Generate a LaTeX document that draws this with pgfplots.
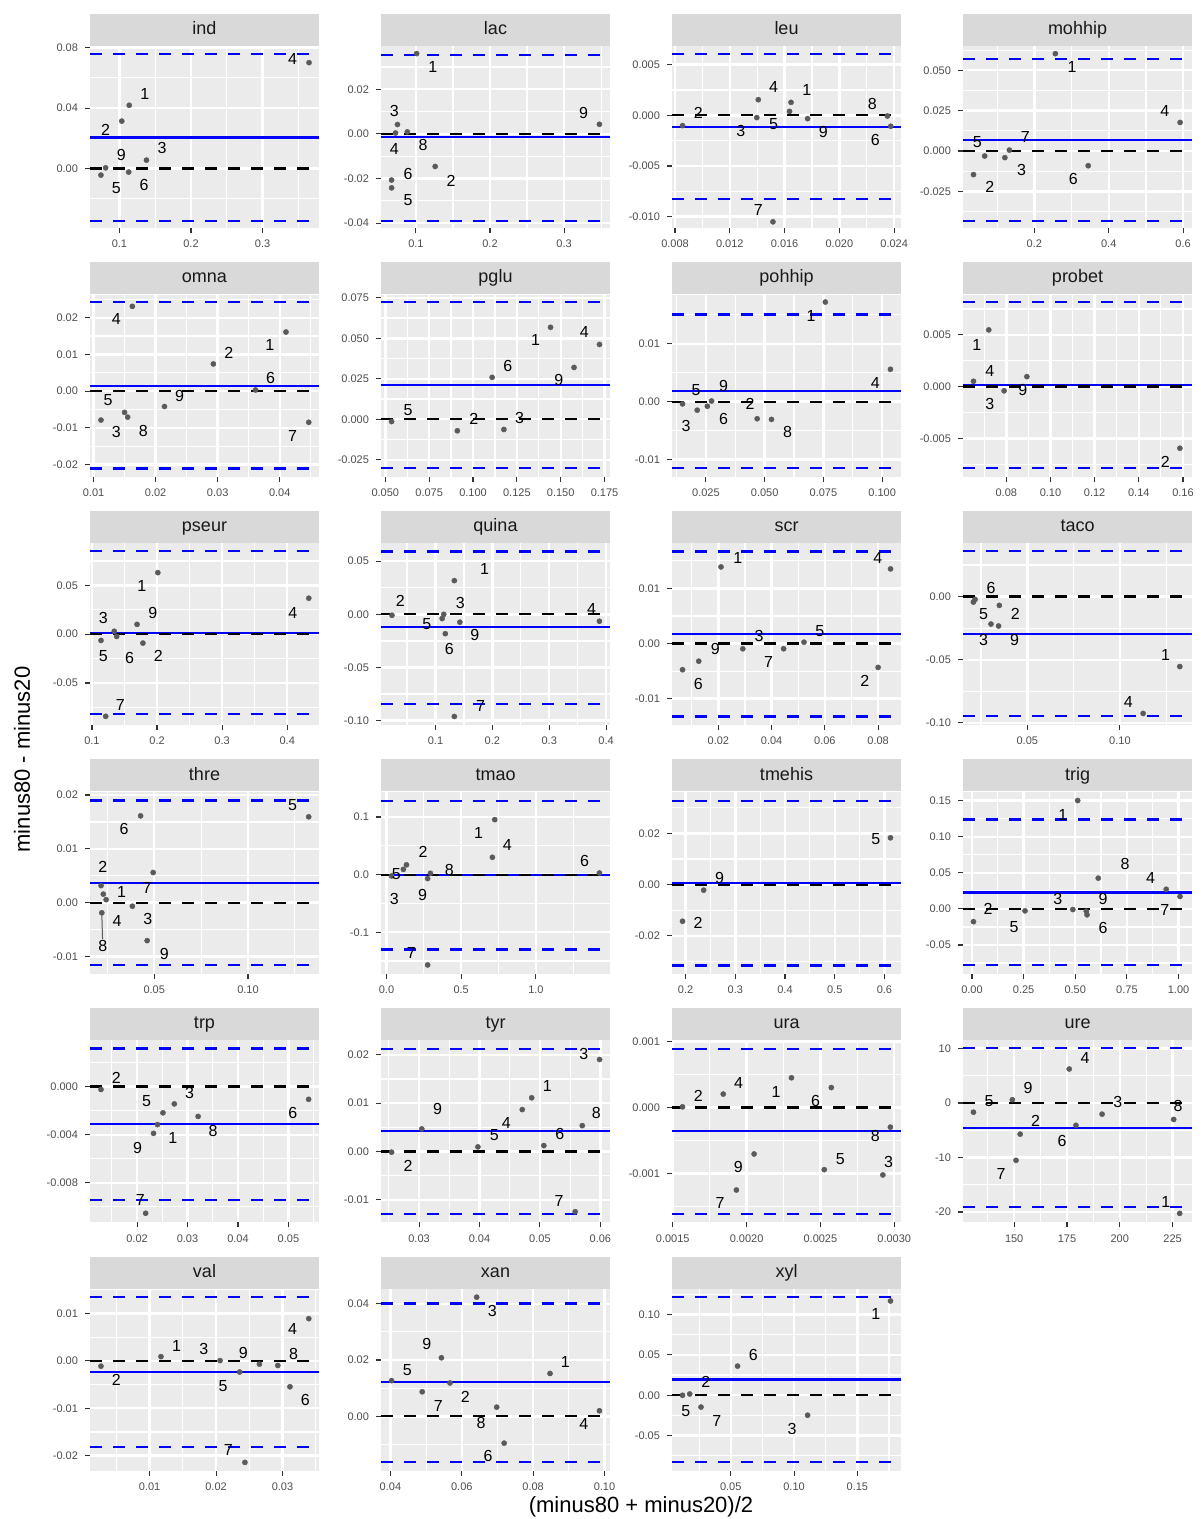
\documentclass[border=0pt]{standalone}
\usepackage{fontspec}
\setmainfont{Liberation Sans}
\usepackage{pgfplots}
\pgfplotsset{compat=1.18}
\definecolor{panelbg}{HTML}{EBEBEB}
\definecolor{stripbg}{HTML}{D9D9D9}
\definecolor{ticklab}{HTML}{4D4D4D}
\definecolor{tickcol}{HTML}{333333}
\definecolor{ptgray}{HTML}{5A5A5A}
\pgfplotsset{
  ggpanel/.style={
    width=114.5pt, height=91pt, scale only axis, anchor=north west,
    axis background/.style={fill=panelbg},
    axis line style={draw=none},
    grid=both,
    major grid style={white, line width=1.2pt},
    minor grid style={white, line width=0.6pt},
    tick align=outside, tick pos=left,
    major tick length=2.5pt, minor tick length=0pt,
    tick style={color=tickcol, line width=0.55pt},
    tick label style={font=\fontsize{5.5}{6}\selectfont, text=ticklab},
    scaled ticks=false,
    every axis title/.style={at={(0.5,1)}, anchor=south, fill=stripbg,
      minimum width=114.5pt, minimum height=16pt, inner sep=0pt,
      text height=6.3pt, text depth=1.7pt,
      font=\fontsize{9}{10}\selectfont, text=black!90},
  },
  pts/.style={only marks, mark=*, mark size=1.3pt,
    mark options={draw=ptgray, fill=ptgray, line width=0.2pt}},
  lbl/.style={draw=none, mark=none, nodes near coords, point meta=explicit symbolic,
    every node near coord/.style={anchor=center, inner sep=0pt,
      font=\fontsize{8}{9}\selectfont, text=black}},
}
\newcommand{\bala}[3]{%
  \draw[blue, line width=1.1pt] ({rel axis cs:0,0}|-{axis cs:0,#1}) -- ({rel axis cs:1,0}|-{axis cs:0,#1});
  \draw[blue, line width=1.1pt, dash pattern=on 6pt off 5.5pt] ({rel axis cs:0,0}|-{axis cs:0,#2}) -- ({rel axis cs:1,0}|-{axis cs:0,#2});
  \draw[blue, line width=1.1pt, dash pattern=on 6pt off 5.5pt] ({rel axis cs:0,0}|-{axis cs:0,#3}) -- ({rel axis cs:1,0}|-{axis cs:0,#3});
  \draw[black, line width=1.1pt, dash pattern=on 6pt off 5.5pt] ({rel axis cs:0,0}|-{axis cs:0,0}) -- ({rel axis cs:1,0}|-{axis cs:0,0});
}
\begin{document}
\begin{tikzpicture}
\useasboundingbox (0,0) rectangle (600pt,-759.5pt);

% ---------- row 1 ----------
\begin{axis}[ggpanel, at={(45pt,-23pt)}, title={ind},
  xmin=0.0589, xmax=0.3789, ymin=-0.0393, ymax=0.0811,
  xtick={0.1,0.2,0.3}, xticklabels={0.1,0.2,0.3}, minor xtick={0.15,0.25,0.35},
  ytick={-0.04,0,0.04,0.08}, yticklabels={-0.04,0.00,0.04,0.08}, minor ytick={-0.02,0.02,0.06}]
\bala{0.0206}{0.0760}{-0.0349}
\addplot[pts] table[row sep=\\]{x y\\ 0.365 0.0701\\ 0.1137 0.0419\\ 0.1033 0.0314\\ 0.1378 0.0056\\ 0.0808 0.0005\\ 0.0742 -0.0043\\ 0.113 -0.0023\\};
\addplot[lbl] table[row sep=\\, meta=l]{x y l\\ 0.342 0.0722 4\\ 0.1356 0.0496 1\\ 0.0808 0.0256 2\\ 0.1597 0.0137 3\\ 0.1027 0.0089 9\\ 0.0956 -0.0131 5\\ 0.1345 -0.0109 6\\};
\end{axis}

\begin{axis}[ggpanel, at={(190.5pt,-23pt)}, title={lac},
  xmin=0.0529, xmax=0.3619, ymin=-0.0422, ymax=0.0394,
  xtick={0.1,0.2,0.3}, xticklabels={0.1,0.2,0.3}, minor xtick={0.15,0.25,0.35},
  ytick={-0.04,-0.02,0,0.02}, yticklabels={-0.04,-0.02,0.00,0.02}, minor ytick={-0.03,-0.01,0.01,0.03}]
\bala{-0.0015}{0.0355}{-0.0391}
\addplot[pts] table[row sep=\\]{x y\\ 0.101 0.036\\ 0.0751 0.0042\\ 0.0725 0.0004\\ 0.0884 0.0009\\ 0.3476 0.0043\\ 0.126 -0.0146\\ 0.0672 -0.0207\\ 0.0672 -0.0242\\};
\addplot[lbl] table[row sep=\\, meta=l]{x y l\\ 0.1227 0.0301 1\\ 0.0709 0.0103 3\\ 0.3264 0.0094 9\\ 0.0709 -0.0067 4\\ 0.1095 -0.0049 8\\ 0.0894 -0.0182 6\\ 0.1476 -0.0209 2\\ 0.0894 -0.0298 5\\};
\end{axis}

\begin{axis}[ggpanel, at={(336pt,-23pt)}, title={leu},
  xmin=0.00778, xmax=0.0245, ymin=-0.01112, ymax=0.00684,
  xtick={0.008,0.012,0.016,0.020,0.024}, xticklabels={0.008,0.012,0.016,0.020,0.024}, minor xtick={0.010,0.014,0.018,0.022},
  ytick={-0.010,-0.005,0,0.005}, yticklabels={-0.010,-0.005,0.000,0.005}, minor ytick={-0.0075,-0.0025,0.0025}]
\bala{-0.00112}{0.00604}{-0.00827}
\addplot[pts] table[row sep=\\]{x y\\ 0.00855 -0.00102\\ 0.01408 0.00154\\ 0.01397 -0.00023\\ 0.01647 0.00128\\ 0.01636 0.00039\\ 0.01768 -0.00033\\ 0.02351 -0.00007\\ 0.02375 -0.00108\\ 0.01515 -0.01051\\};
\addplot[lbl] table[row sep=\\, meta=l]{x y l\\ 0.0097 0.0002 2\\ 0.0152 0.00276 4\\ 0.01762 0.00253 1\\ 0.01281 -0.00158 3\\ 0.0152 -0.00089 5\\ 0.01883 -0.00167 9\\ 0.0224 0.00112 8\\ 0.02262 -0.00243 6\\ 0.01408 -0.00932 7\\};
\end{axis}

\begin{axis}[ggpanel, at={(481.5pt,-23pt)}, title={mohhip},
  xmin=0.008, xmax=0.624, ymin=-0.04767, ymax=0.06505,
  xtick={0.2,0.4,0.6}, xticklabels={0.2,0.4,0.6}, minor xtick={0.1,0.3,0.5},
  ytick={-0.025,0,0.025,0.05}, yticklabels={-0.025,0.000,0.025,0.050}, minor ytick={-0.0375,-0.0125,0.0125,0.0375,0.0625}]
\bala{0.0068}{0.0569}{-0.0431}
\addplot[pts] table[row sep=\\]{x y\\ 0.2563 0.0603\\ 0.592 0.0177\\ 0.0362 -0.0146\\ 0.0663 -0.0031\\ 0.1206 -0.0041\\ 0.1327 0.0006\\ 0.3447 -0.0091\\};
\addplot[lbl] table[row sep=\\, meta=l]{x y l\\ 0.3015 0.0521 1\\ 0.5508 0.0247 4\\ 0.0462 0.0058 5\\ 0.1759 0.0089 7\\ 0.0804 -0.0225 2\\ 0.1658 -0.0117 3\\ 0.3045 -0.0173 6\\};
\end{axis}

% ---------- row 2 ----------
\begin{axis}[ggpanel, at={(45pt,-147.3pt)}, title={omna},
  xmin=0.00943, xmax=0.04632, ymin=-0.0233, ymax=0.0263,
  xtick={0.01,0.02,0.03,0.04}, xticklabels={0.01,0.02,0.03,0.04}, minor xtick={0.015,0.025,0.035,0.045},
  ytick={-0.02,-0.01,0,0.01,0.02}, yticklabels={-0.02,-0.01,0.00,0.01,0.02}, minor ytick={-0.015,-0.005,0.005,0.015,0.025}]
\bala{0.0015}{0.0242}{-0.0211}
\addplot[pts] table[row sep=\\]{x y\\ 0.01625 0.0231\\ 0.041 0.0161\\ 0.0293 0.0074\\ 0.0361 0.0003\\ 0.02143 -0.0042\\ 0.0112 -0.0079\\ 0.015 -0.0058\\ 0.0155 -0.0071\\ 0.04467 -0.0085\\};
\addplot[lbl] table[row sep=\\, meta=l]{x y l\\ 0.01366 0.0197 4\\ 0.0318 0.0103 2\\ 0.0384 0.0126 1\\ 0.0385 0.0035 6\\ 0.02385 -0.0012 9\\ 0.01234 -0.0025 5\\ 0.01366 -0.0112 3\\ 0.01802 -0.0109 8\\ 0.04208 -0.0122 7\\};
\end{axis}

\begin{axis}[ggpanel, at={(190.5pt,-147.3pt)}, title={pglu},
  xmin=0.04754, xmax=0.1781, ymin=-0.0354, ymax=0.077,
  xtick={0.05,0.075,0.1,0.125,0.15,0.175}, xticklabels={0.050,0.075,0.100,0.125,0.150,0.175}, minor xtick={0.0625,0.0875,0.1125,0.1375,0.1625},
  ytick={-0.025,0,0.025,0.05,0.075}, yticklabels={-0.025,0.000,0.025,0.050,0.075}, minor ytick={-0.0125,0.0125,0.0375,0.0625}]
\bala{0.021}{0.0723}{-0.0303}
\addplot[pts] table[row sep=\\]{x y\\ 0.05357 -0.0014\\ 0.09107 -0.0071\\ 0.1176 -0.0063\\ 0.1109 0.0259\\ 0.1442 0.0568\\ 0.1576 0.032\\ 0.1721 0.0462\\};
\addplot[lbl] table[row sep=\\, meta=l]{x y l\\ 0.0630 0.0059 5\\ 0.1004 0.0002 2\\ 0.1266 0.0006 3\\ 0.1199 0.0332 6\\ 0.1357 0.0491 1\\ 0.1489 0.0244 9\\ 0.1634 0.0536 4\\};
\end{axis}

\begin{axis}[ggpanel, at={(336pt,-147.3pt)}, title={pohhip},
  xmin=0.01058, xmax=0.108, ymin=-0.01296, ymax=0.01849,
  xtick={0.025,0.05,0.075,0.1}, xticklabels={0.025,0.050,0.075,0.100}, minor xtick={0.0125,0.0375,0.0625,0.0875},
  ytick={-0.01,0,0.01}, yticklabels={-0.01,0.00,0.01}, minor ytick={-0.005,0.005,0.015}]
\bala{0.00182}{0.01504}{-0.01151}
\addplot[pts] table[row sep=\\]{x y\\ 0.0758 0.0172\\ 0.1035 0.00558\\ 0.01507 -0.0004\\ 0.0213 -0.00148\\ 0.0256 -0.0008\\ 0.0274 0.0001\\ 0.0468 -0.00296\\ 0.0529 -0.00308\\};
\addplot[lbl] table[row sep=\\, meta=l]{x y l\\ 0.02083 0.002 5\\ 0.03253 0.00262 9\\ 0.01651 -0.00416 3\\ 0.03253 -0.00308 6\\ 0.04375 -0.00046 2\\ 0.05978 -0.0053 8\\ 0.09712 0.00319 4\\ 0.06971 0.01481 1\\};
\end{axis}

\begin{axis}[ggpanel, at={(481.5pt,-147.3pt)}, title={probet},
  xmin=0.06038, xmax=0.1641, ymin=-0.0087, ymax=0.00889,
  xtick={0.08,0.1,0.12,0.14,0.16}, xticklabels={0.08,0.10,0.12,0.14,0.16}, minor xtick={0.07,0.09,0.11,0.13,0.15},
  ytick={-0.005,0,0.005}, yticklabels={-0.005,0.000,0.005}, minor ytick={-0.0075,-0.0025,0.0025,0.0075}]
\bala{0.00013}{0.00815}{-0.0079}
\addplot[pts] table[row sep=\\]{x y\\ 0.06512 0.00051\\ 0.07205 0.00548\\ 0.07899 -0.00041\\ 0.0893 0.00096\\ 0.1586 -0.00596\\};
\addplot[lbl] table[row sep=\\, meta=l]{x y l\\ 0.06664 0.00398 1\\ 0.07256 0.00147 4\\ 0.07256 -0.00166 3\\ 0.08744 -0.00032 9\\ 0.1520 -0.00726 2\\};
\end{axis}

% ---------- row 3 ----------
\begin{axis}[ggpanel, at={(45pt,-271.6pt)}, title={pseur},
  xmin=0.097, xmax=0.4488, ymin=-0.0933, ymax=0.0933,
  xtick={0.1,0.2,0.3,0.4}, xticklabels={0.1,0.2,0.3,0.4}, minor xtick={0.15,0.25,0.35},
  ytick={-0.05,0,0.05}, yticklabels={-0.05,0.00,0.05}, minor ytick={-0.075,-0.025,0.025,0.075}]
\bala{0.001}{0.0849}{-0.0819}
\addplot[pts] table[row sep=\\]{x y\\ 0.1139 -0.0064\\ 0.1343 0.003\\ 0.138 -0.0023\\ 0.1693 0.0101\\ 0.1783 -0.0091\\ 0.2012 0.0631\\ 0.4331 0.0369\\ 0.1211 -0.0842\\};
\addplot[lbl] table[row sep=\\, meta=l]{x y l\\ 0.1765 0.0497 1\\ 0.1175 0.0164 3\\ 0.1934 0.0221 9\\ 0.4084 0.0221 4\\ 0.1175 -0.0221 5\\ 0.1578 -0.0248 6\\ 0.2018 -0.0221 2\\ 0.1434 -0.0728 7\\};
\end{axis}

\begin{axis}[ggpanel, at={(190.5pt,-271.6pt)}, title={quina},
  xmin=0.0041, xmax=0.4069, ymin=-0.1043, ymax=0.0669,
  xtick={0.1,0.2,0.3,0.4}, xticklabels={0.1,0.2,0.3,0.4}, minor xtick={0.05,0.15,0.25,0.35},
  ytick={-0.1,-0.05,0,0.05}, yticklabels={-0.10,-0.05,0.00,0.05}, minor ytick={-0.075,-0.025,0.025}]
\bala{-0.0123}{0.0591}{-0.0847}
\addplot[pts] table[row sep=\\]{x y\\ 0.0234 -0.0009\\ 0.1331 0.0317\\ 0.1145 0.0\\ 0.1117 -0.004\\ 0.1428 -0.0074\\ 0.1172 -0.0182\\ 0.3883 -0.0065\\ 0.1331 -0.0961\\};
\addplot[lbl] table[row sep=\\, meta=l]{x y l\\ 0.038 0.0129 2\\ 0.1862 0.0431 1\\ 0.1434 0.0105 3\\ 0.0848 -0.0092 5\\ 0.1690 -0.0194 9\\ 0.1241 -0.033 6\\ 0.3745 0.0046 4\\ 0.1793 -0.0862 7\\};
\end{axis}

\begin{axis}[ggpanel, at={(336pt,-271.6pt)}, title={scr},
  xmin=0.0026, xmax=0.0886, ymin=-0.01481, ymax=0.01819,
  xtick={0.02,0.04,0.06,0.08}, xticklabels={0.02,0.04,0.06,0.08}, minor xtick={0.01,0.03,0.05,0.07},
  ytick={-0.01,0,0.01}, yticklabels={-0.01,0.00,0.01}, minor ytick={-0.005,0.005,0.015}]
\bala{0.00172}{0.01668}{-0.01324}
\addplot[pts] table[row sep=\\]{x y\\ 0.00656 -0.00475\\ 0.01264 -0.0032\\ 0.02099 0.01389\\ 0.0292 -0.00095\\ 0.04453 -0.00095\\ 0.05217 0.00024\\ 0.08 -0.00433\\ 0.08467 0.01353\\};
\addplot[lbl] table[row sep=\\, meta=l]{x y l\\ 0.02736 0.01555 1\\ 0.0799 0.01555 4\\ 0.01887 -0.00107 9\\ 0.03533 0.00142 3\\ 0.05816 0.00231 5\\ 0.03887 -0.00332 7\\ 0.0125 -0.0073 6\\ 0.07505 -0.00671 2\\};
\end{axis}

\begin{axis}[ggpanel, at={(481.5pt,-271.6pt)}, title={taco},
  xmin=0.0153, xmax=0.1389, ymin=-0.1018, ymax=0.0422,
  xtick={0.05,0.1}, xticklabels={0.05,0.10}, minor xtick={0.025,0.075,0.125},
  ytick={-0.1,-0.05,0}, yticklabels={-0.10,-0.05,0.00}, minor ytick={-0.075,-0.025,0.025}]
\bala{-0.0295}{0.0358}{-0.0948}
\addplot[pts] table[row sep=\\]{x y\\ 0.0209 -0.0044\\ 0.0218 -0.0023\\ 0.0349 -0.007\\ 0.0304 -0.0218\\ 0.0345 -0.0233\\ 0.1323 -0.0554\\ 0.1125 -0.0925\\};
\addplot[lbl] table[row sep=\\, meta=l]{x y l\\ 0.0304 0.0067 6\\ 0.0264 -0.014 5\\ 0.0435 -0.014 2\\ 0.0264 -0.0347 3\\ 0.0431 -0.0347 9\\ 0.1246 -0.0464 1\\ 0.1045 -0.0832 4\\};
\end{axis}

% ---------- row 4 ----------
\begin{axis}[ggpanel, at={(45pt,-395.9pt)}, title={thre},
  xmin=0.0157, xmax=0.1379, ymin=-0.01323, ymax=0.0206,
  xtick={0.05,0.1}, xticklabels={0.05,0.10}, minor xtick={0.025,0.075,0.125},
  ytick={-0.01,0,0.01,0.02}, yticklabels={-0.01,0.00,0.01,0.02}, minor ytick={-0.005,0.005,0.015}]
\bala{0.00371}{0.019}{-0.01162}
\addplot[gray!70!black, line width=0.5pt] coordinates {(0.0220,-0.0021) (0.0224,-0.0068)};
\addplot[pts] table[row sep=\\]{x y\\ 0.0427 0.01613\\ 0.1324 0.01595\\ 0.0494 0.0056\\ 0.0216 0.00316\\ 0.0228 0.00158\\ 0.0243 0.00055\\ 0.0383 -0.00067\\ 0.0220 -0.00189\\ 0.0462 -0.00706\\};
\addplot[lbl] table[row sep=\\, meta=l]{x y l\\ 0.1238 0.01808 5\\ 0.0339 0.01363 6\\ 0.0226 0.00669 2\\ 0.0326 0.00189 1\\ 0.0462 0.0028 7\\ 0.0301 -0.00347 4\\ 0.0466 -0.0031 3\\ 0.0226 -0.00809 8\\ 0.0554 -0.00962 9\\};
\end{axis}

\begin{axis}[ggpanel, at={(190.5pt,-395.9pt)}, title={tmao},
  xmin=-0.0367, xmax=1.496, ymin=-0.1722, ymax=0.1438,
  xtick={0,0.5,1}, xticklabels={0.0,0.5,1.0}, minor xtick={0.25,0.75,1.25},
  ytick={-0.1,0,0.1}, yticklabels={-0.1,0.0,0.1}, minor ytick={-0.15,-0.05,0.05}]
\bala{-0.0006}{0.1284}{-0.1301}
\addplot[pts] table[row sep=\\]{x y\\ 0.0341 -0.0023\\ 0.1129 0.0091\\ 0.1339 0.017\\ 0.2756 -0.0068\\ 0.294 0.0023\\ 0.7244 0.0955\\ 0.7087 0.0301\\ 1.4252 0.0028\\ 0.2756 -0.1568\\};
\addplot[lbl] table[row sep=\\, meta=l]{x y l\\ 0.0656 0.0017 5\\ 0.0525 -0.042 3\\ 0.2441 0.0386 2\\ 0.2415 -0.0352 9\\ 0.42 0.0074 8\\ 0.6168 0.0716 1\\ 0.8084 0.0506 4\\ 1.3255 0.0233 6\\ 0.1654 -0.1369 7\\};
\end{axis}

\begin{axis}[ggpanel, at={(336pt,-395.9pt)}, title={tmehis},
  xmin=0.1727, xmax=0.6333, ymin=-0.03482, ymax=0.03623,
  xtick={0.2,0.3,0.4,0.5,0.6}, xticklabels={0.2,0.3,0.4,0.5,0.6}, minor xtick={0.25,0.35,0.45,0.55},
  ytick={-0.02,0,0.02}, yticklabels={-0.02,0.00,0.02}, minor ytick={-0.03,-0.01,0.01,0.03}]
\bala{0.00051}{0.03271}{-0.03157}
\addplot[pts] table[row sep=\\]{x y\\ 0.1939 -0.01431\\ 0.2364 -0.00217\\ 0.6121 0.01827\\};
\addplot[lbl] table[row sep=\\, meta=l]{x y l\\ 0.225 -0.01482 2\\ 0.2682 0.00268 9\\ 0.5826 0.01776 5\\};
\end{axis}

\begin{axis}[ggpanel, at={(481.5pt,-395.9pt)}, title={trig},
  xmin=-0.0434, xmax=1.0651, ymin=-0.0899, ymax=0.1622,
  xtick={0,0.25,0.5,0.75,1}, xticklabels={0.00,0.25,0.50,0.75,1.00}, minor xtick={0.125,0.375,0.625,0.875},
  ytick={-0.05,0,0.05,0.1,0.15}, yticklabels={-0.05,0.00,0.05,0.10,0.15}, minor ytick={-0.075,-0.025,0.025,0.075,0.125}]
\bala{0.0227}{0.1238}{-0.078}
\addplot[pts] table[row sep=\\]{x y\\ 0.0072 -0.0177\\ 0.2568 -0.0027\\ 0.4882 -0.0009\\ 0.5533 -0.0032\\ 0.557 -0.0082\\ 0.5118 0.1501\\ 0.6112 0.0426\\ 0.9403 0.0272\\ 1.0072 0.0172\\};
\addplot[lbl] table[row sep=\\, meta=l]{x y l\\ 0.4394 0.1306 1\\ 0.0778 -0.0005 2\\ 0.2043 -0.0245 5\\ 0.4159 0.0141 3\\ 0.6347 0.0141 9\\ 0.6347 -0.0258 6\\ 0.741 0.0617 8\\ 0.8644 0.0426 4\\ 0.933 -0.0018 7\\};
\end{axis}

% ---------- row 5 ----------
\begin{axis}[ggpanel, at={(45pt,-520.2pt)}, title={trp},
  xmin=0.01067, xmax=0.05606, ymin=-0.01129, ymax=0.003837,
  xtick={0.02,0.03,0.04,0.05}, xticklabels={0.02,0.03,0.04,0.05}, minor xtick={0.015,0.025,0.035,0.045,0.055},
  ytick={-0.008,-0.004,0}, yticklabels={-0.008,-0.004,0.000}, minor ytick={-0.01,-0.006,-0.002,0.002}]
\bala{-0.00313}{0.00316}{-0.00941}
\addplot[pts] table[row sep=\\]{x y\\ 0.01285 -0.00024\\ 0.02738 -0.00144\\ 0.02513 -0.00218\\ 0.02404 -0.00316\\ 0.02326 -0.00389\\ 0.0321 -0.00248\\ 0.0540 -0.00106\\ 0.0217 -0.01053\\};
\addplot[lbl] table[row sep=\\, meta=l]{x y l\\ 0.01588 0.00068 2\\ 0.02187 -0.0012 5\\ 0.03039 -0.00057 3\\ 0.05086 -0.0022 6\\ 0.02707 -0.0043 1\\ 0.03505 -0.0037 8\\ 0.02008 -0.00509 9\\ 0.02062 -0.00941 7\\};
\end{axis}

\begin{axis}[ggpanel, at={(190.5pt,-520.2pt)}, title={tyr},
  xmin=0.0237, xmax=0.0616, ymin=-0.01467, ymax=0.02298,
  xtick={0.03,0.04,0.05,0.06}, xticklabels={0.03,0.04,0.05,0.06}, minor xtick={0.025,0.035,0.045,0.055},
  ytick={-0.01,0,0.01,0.02}, yticklabels={-0.01,0.00,0.01,0.02}, minor ytick={-0.005,0.005,0.015}]
\bala{0.0042}{0.02126}{-0.01287}
\addplot[pts] table[row sep=\\]{x y\\ 0.02545 -0.00014\\ 0.03045 0.00467\\ 0.03974 0.00095\\ 0.04708 0.00867\\ 0.04864 0.01111\\ 0.05065 0.00122\\ 0.05701 0.00535\\ 0.05987 0.01903\\ 0.05584 -0.01246\\};
\addplot[lbl] table[row sep=\\, meta=l]{x y l\\ 0.05727 0.02011 3\\ 0.05123 0.01348 1\\ 0.03305 0.00887 9\\ 0.04442 0.00589 4\\ 0.04247 0.00332 5\\ 0.05331 0.00352 6\\ 0.05935 0.00806 8\\ 0.02818 -0.00305 2\\ 0.05318 -0.01016 7\\};
\end{axis}

\begin{axis}[ggpanel, at={(336pt,-520.2pt)}, title={ura},
  xmin=0.001495, xmax=0.003046, ymin=-0.001738, ymax=0.001015,
  xtick={0.0015,0.002,0.0025,0.003}, xticklabels={0.0015,0.0020,0.0025,0.0030}, minor xtick={0.00175,0.00225,0.00275},
  ytick={-0.001,0,0.001}, yticklabels={-0.001,0.000,0.001}, minor ytick={-0.0015,-0.0005,0.0005}]
\bala{-0.000356}{0.000886}{-0.001609}
\addplot[pts] table[row sep=\\]{x y\\ 0.001566 0.00001\\ 0.001842 0.000203\\ 0.002304 0.00045\\ 0.002574 0.000302\\ 0.002051 -0.000703\\ 0.001931 -0.001248\\ 0.002526 -0.00094\\ 0.002923 -0.00102\\ 0.002974 -0.000297\\};
\addplot[lbl] table[row sep=\\, meta=l]{x y l\\ 0.001673 0.000183 2\\ 0.001946 0.000366 4\\ 0.002199 0.000233 1\\ 0.002467 0.000099 6\\ 0.002872 -0.000426 8\\ 0.001944 -0.000906 9\\ 0.002635 -0.000782 5\\ 0.002962 -0.000817 3\\ 0.001821 -0.00145 7\\};
\end{axis}

\begin{axis}[ggpanel, at={(481.5pt,-520.2pt)}, title={ure},
  xmin=125.77, xmax=234.2, ymin=-21.92, ymax=11.5,
  xtick={150,175,200,225}, xticklabels={150,175,200,225}, minor xtick={137.5,162.5,187.5,212.5},
  ytick={-20,-10,0,10}, yticklabels={-20,-10,0,10}, minor ytick={-15,-5,5}]
\bala{-4.51}{10.04}{-19.06}
\addplot[pts] table[row sep=\\]{x y\\ 130.72 -1.68\\ 149.12 0.6\\ 152.83 -5.71\\ 150.88 -10.52\\ 176.06 6.25\\ 179.24 -4.09\\ 191.62 -2.04\\ 225.53 -3.01\\ 228.36 -20.26\\};
\addplot[lbl] table[row sep=\\, meta=l]{x y l\\ 138.15 0.3 5\\ 156.54 2.71 9\\ 183.6 8.24 4\\ 160.08 -3.31 2\\ 172.64 -6.91 6\\ 143.81 -13.11 7\\ 199.12 0.12 3\\ 227.65 -0.6 8\\ 221.81 -18.16 1\\};
\end{axis}

% ---------- row 6 ----------
\begin{axis}[ggpanel, at={(45pt,-644.5pt)}, title={val},
  xmin=0.00103, xmax=0.03549, ymin=-0.02325, ymax=0.01518,
  xtick={0.01,0.02,0.03}, xticklabels={0.01,0.02,0.03}, minor xtick={0.005,0.015,0.025,0.035},
  ytick={-0.02,-0.01,0,0.01}, yticklabels={-0.02,-0.01,0.00,0.01}, minor ytick={-0.015,-0.005,0.005,0.015}]
\bala{-0.00242}{0.01341}{-0.01818}
\addplot[pts] table[row sep=\\]{x y\\ 0.00268 -0.00111\\ 0.01171 0.0009\\ 0.0206 0.00007\\ 0.02355 -0.00235\\ 0.02652 -0.00069\\ 0.02929 -0.00097\\ 0.03112 -0.00546\\ 0.03395 0.00892\\ 0.02434 -0.02143\\};
\addplot[lbl] table[row sep=\\, meta=l]{x y l\\ 0.00498 -0.00401 2\\ 0.01407 0.00325 1\\ 0.01814 0.00242 3\\ 0.0241 0.00173 9\\ 0.03165 0.00138 8\\ 0.03153 0.00684 4\\ 0.02106 -0.00532 5\\ 0.03342 -0.00829 6\\ 0.02183 -0.01887 7\\};
\end{axis}

\begin{axis}[ggpanel, at={(190.5pt,-644.5pt)}, title={xan},
  xmin=0.03736, xmax=0.10154, ymin=-0.01942, ymax=0.04523,
  xtick={0.04,0.06,0.08,0.1}, xticklabels={0.04,0.06,0.08,0.10}, minor xtick={0.05,0.07,0.09},
  ytick={0,0.02,0.04}, yticklabels={0.00,0.02,0.04}, minor ytick={-0.01,0.01,0.03}]
\bala{0.01209}{0.04012}{-0.01628}
\addplot[pts] table[row sep=\\]{x y\\ 0.04033 0.01267\\ 0.0489 0.00872\\ 0.05429 0.02081\\ 0.0567 0.01186\\ 0.06418 0.04233\\ 0.06978 0.00326\\ 0.07187 -0.00953\\ 0.08473 0.01523\\ 0.09857 0.00198\\};
\addplot[lbl] table[row sep=\\, meta=l]{x y l\\ 0.04473 0.0164 5\\ 0.05022 0.02558 9\\ 0.06857 0.03744 3\\ 0.08901 0.01919 1\\ 0.06099 0.00698 2\\ 0.05341 0.00384 7\\ 0.06539 -0.00221 8\\ 0.06736 -0.01407 6\\ 0.09418 -0.00267 4\\};
\end{axis}

\begin{axis}[ggpanel, at={(336pt,-644.5pt)}, title={xyl},
  xmin=0.00357, xmax=0.1845, ymin=-0.0938, ymax=0.1316,
  xtick={0.05,0.1,0.15}, xticklabels={0.05,0.10,0.15}, minor xtick={0.025,0.075,0.125,0.175},
  ytick={-0.05,0,0.05,0.1}, yticklabels={-0.05,0.00,0.05,0.10}, minor ytick={-0.075,-0.025,0.025,0.075,0.125}]
\bala{0.0195}{0.1216}{-0.0827}
\addplot[pts] table[row sep=\\]{x y\\ 0.0119 0.0\\ 0.01756 0.0016\\ 0.02649 -0.0146\\ 0.05536 0.0361\\ 0.11071 -0.0247\\ 0.17619 0.1168\\};
\addplot[lbl] table[row sep=\\, meta=l]{x y l\\ 0.16458 0.1005 1\\ 0.06786 0.0499 6\\ 0.03036 0.0162 2\\ 0.01458 -0.0199 5\\ 0.03899 -0.0316 7\\ 0.09851 -0.0414 3\\};
\end{axis}

\node[rotate=90, font=\fontsize{11}{12}\selectfont] at (11pt,-379.75pt) {minus80 - minus20};
\node[font=\fontsize{11}{12}\selectfont] at (320.5pt,-753.5pt) {(minus80 + minus20)/2};
\end{tikzpicture}
\end{document}
